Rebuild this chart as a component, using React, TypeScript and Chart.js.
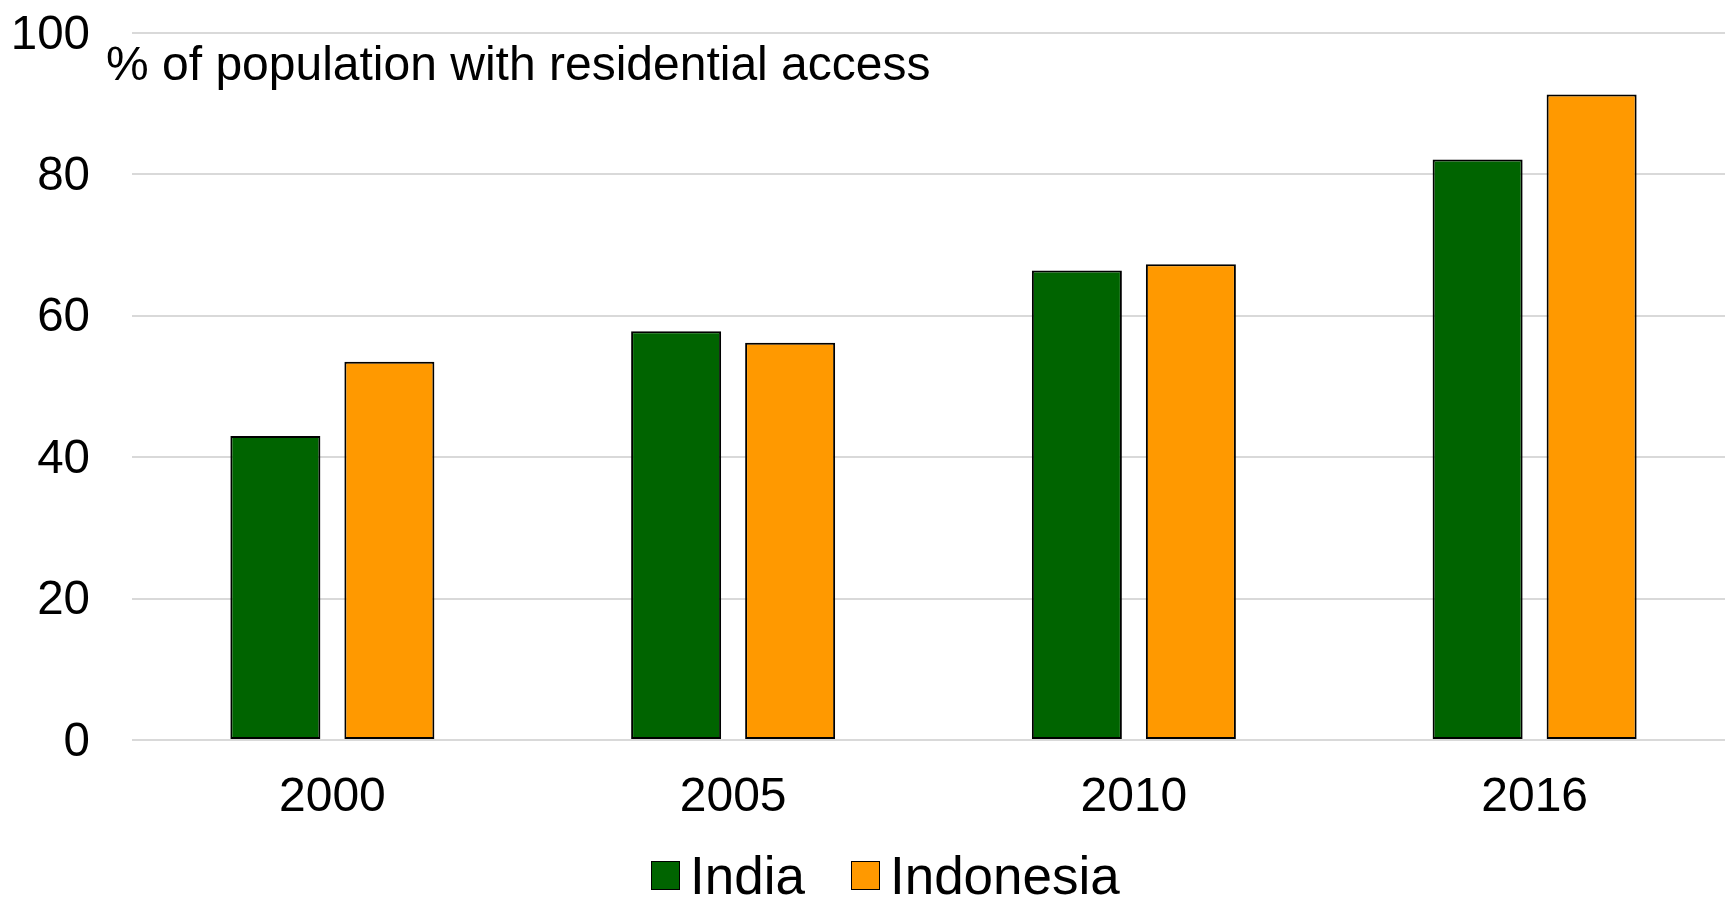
import React, { useEffect, useRef } from "react";
import { Chart, registerables } from "chart.js";

Chart.register(...registerables);

const categories = ["2000", "2005", "2010", "2016"];
const indiaValues = [43.0, 57.8, 66.4, 82.1];
const indonesiaValues = [53.5, 56.2, 67.3, 91.3];
const seriesNames = ["India", "Indonesia"];
const seriesColors = ["#006400", "#FF9900"];
const yMin = 0;
const yMax = 100;
const yStep = 20;
const axisNote = "% of population with residential access";

const FONT = "'Liberation Sans', Arial, Helvetica, sans-serif";

const notePlugin = {
  id: "axisNote",
  afterDraw(chart: any) {
    const { ctx, chartArea } = chart;
    ctx.save();
    ctx.font = `48px ${FONT}`;
    ctx.fillStyle = "#000";
    ctx.textAlign = "left";
    ctx.textBaseline = "alphabetic";
    ctx.fillText(axisNote, chartArea.left - 26, chartArea.top + 46.5);
    ctx.restore();
  },
};

export default function App() {
  const canvasRef = useRef<HTMLCanvasElement | null>(null);

  useEffect(() => {
    if (!canvasRef.current) return;
    const datasets = [indiaValues, indonesiaValues].map((vals, i) => ({
      label: seriesNames[i],
      data: vals,
      backgroundColor: seriesColors[i],
      borderColor: "#000",
      borderWidth: 2,
      borderSkipped: false,
      categoryPercentage: 0.569,
      barPercentage: 0.7895,
    }));
    const chart = new Chart(canvasRef.current, {
      type: "bar",
      data: { labels: categories, datasets },
      plugins: [notePlugin],
      options: {
        responsive: false,
        animation: false,
        devicePixelRatio: 1,
        layout: { padding: { top: 33, left: 0, right: 0, bottom: 0 } },
        plugins: {
          legend: { display: false },
          title: { display: false },
          tooltip: { enabled: false },
        },
        scales: {
          x: {
            grid: { display: false, drawTicks: false },
            border: { display: false },
            ticks: {
              color: "#000",
              font: { family: FONT, size: 48 },
              padding: 29,
              maxRotation: 0,
            },
            afterFit(scale: any) {
              scale.height = 158;
              scale.paddingLeft = 0;
              scale.paddingRight = 0;
            },
          },
          y: {
            min: yMin,
            max: yMax,
            grid: { color: "#d9d9d9", lineWidth: 2, drawTicks: false },
            border: { display: false },
            ticks: {
              stepSize: yStep,
              color: "#000",
              font: { family: FONT, size: 47.5 },
              padding: 42,
              labelOffset: 2.5,
            },
            afterFit(scale: any) {
              scale.width = 132;
              scale.paddingTop = 0;
              scale.paddingBottom = 0;
            },
          },
        },
      },
    });
    return () => chart.destroy();
  }, []);

  return (
    <div
      style={{
        position: "absolute",
        left: 0,
        top: 0,
        width: 1725,
        height: 898,
        overflow: "hidden",
        background: "#fff",
      }}
    >
      <canvas ref={canvasRef} width={1735} height={898} style={{ display: "block" }} />
      <div
        style={{
          position: "absolute",
          left: 651,
          top: 849,
          display: "flex",
          alignItems: "center",
          fontFamily: FONT,
          fontSize: 53,
          lineHeight: 1,
          color: "#000",
          whiteSpace: "nowrap",
        }}
      >
        {seriesNames.map((name, i) => (
          <div
            key={name}
            style={{ display: "flex", alignItems: "center", marginLeft: i === 0 ? 0 : 46 }}
          >
            <span
              style={{
                display: "inline-block",
                width: 29,
                height: 29,
                boxSizing: "border-box",
                border: "1.5px solid #000",
                background: seriesColors[i],
                marginRight: 10,
              }}
            />
            <span>{name}</span>
          </div>
        ))}
      </div>
    </div>
  );
}
